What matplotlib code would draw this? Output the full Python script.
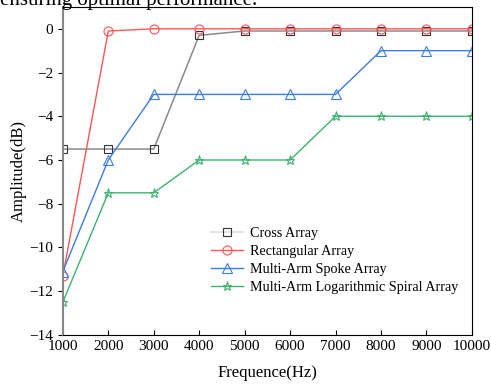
import matplotlib.pyplot as plt
import numpy as np

freq = [1000, 2000, 3000, 4000, 5000, 6000, 7000, 8000, 9000, 10000]
cross = [-5.5, -5.5, -5.5, -0.3, -0.1, -0.1, -0.1, -0.1, -0.1, -0.1]
rect = [-11.3, -0.1, 0, 0, 0, 0, 0, 0, 0, 0]
spoke = [-11.1, -6, -3, -3, -3, -3, -3, -1, -1, -1]
spiral = [-12.5, -7.5, -7.5, -6, -6, -6, -4, -4, -4, -4]
names = ["Cross Array", "Rectangular Array", "Multi-Arm Spoke Array",
         "Multi-Arm Logarithmic Spiral Array"]

plt.rcParams['font.family'] = ['Liberation Serif', 'DejaVu Serif']

fig = plt.figure(figsize=(4.91, 3.85), dpi=100)
ax = fig.add_axes([0.128, 0.130, 0.833, 0.852])

# caption text of the page above, cut off by the crop
fig.text(0.0, 1.025, "ensuring optimal performance.", fontsize=15, va='top')

ax.plot(freq, cross, color='#8a8a8a', lw=1.1, marker='s', ms=5.5, mfc='none',
        mec='#333333', mew=0.8, label=names[0])
ax.plot(freq, rect, color='#ff5555', lw=1.0, marker='o', ms=6.5, mfc='none',
        mec='#ff5555', mew=0.8, label=names[1])
ax.plot(freq, spoke, color='#3b7de0', lw=1.0, marker='^', ms=6.5, mfc='none',
        mec='#3b7de0', mew=0.8, label=names[2])
ax.plot(freq, spiral, color='#3cb371', lw=1.0, marker='*', ms=6.5, mfc='none',
        mec='#3cb371', mew=0.8, label=names[3])

ax.set_xlim(1000, 10000)
ax.set_ylim(-14, 1)
ax.set_xticks(np.arange(1000, 10001, 1000))
ax.set_yticks(np.arange(-14, 1, 2))
ax.tick_params(axis='x', direction='in', labelsize=11)
ax.tick_params(axis='y', direction='out', labelsize=11)
ax.spines['left'].set_color('#888888')
ax.spines['left'].set_linewidth(1.5)
ax.set_xlabel("Frequence(Hz)", fontsize=12, labelpad=9)
ax.set_ylabel("Amplitude(dB)", fontsize=12, labelpad=2)

leg = ax.legend(loc='lower left', bbox_to_anchor=(0.33, 0.085), frameon=False,
                fontsize=10.2, handlelength=2.3, labelspacing=0.35, handletextpad=0.5)
leg.get_lines()[0].set_color('#dddddd')

fig.savefig("out.png", dpi=100)
